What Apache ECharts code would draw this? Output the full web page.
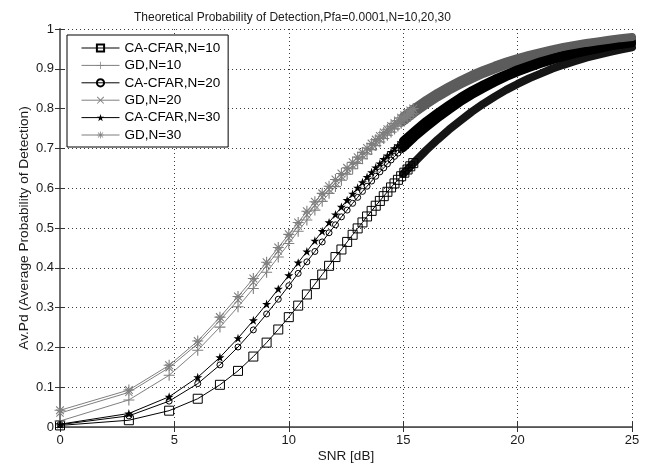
<!DOCTYPE html>
<html>
<head>
<meta charset="utf-8">
<script src="https://cdn.jsdelivr.net/npm/echarts@6/dist/echarts.min.js"></script>
<style>
html,body{margin:0;padding:0;background:#fff;}
#chart{width:652px;height:468px;}
</style>
</head>
<body>
<div id="chart"></div>
<script>
// ---- data ----
const titleText = 'Theoretical Probability of Detection,Pfa=0.0001,N=10,20,30';
const xTicks = [0, 5, 10, 15, 20, 25];
const yTicks = [0, 0.1, 0.2, 0.3, 0.4, 0.5, 0.6, 0.7, 0.8, 0.9, 1];
const seriesNames = ['CA-CFAR,N=10', 'GD,N=10', 'CA-CFAR,N=20', 'GD,N=20', 'CA-CFAR,N=30', 'GD,N=30'];

// SNR sample positions (dB) of the separately visible markers
const snrMarkerDb = [0, 3.01, 4.77, 6.02, 6.99, 7.78, 8.45, 9.03, 9.54, 10, 10.41, 10.79, 11.14, 11.46, 11.76, 12.04, 12.30, 12.55, 12.79, 13.01, 13.22, 13.42, 13.62, 13.80, 13.98, 14.15, 14.31, 14.47, 14.62, 14.77, 14.91, 15.05, 15.19, 15.31, 15.44];
// SNR positions (dB) where markers merge into a dense band
const snrBandDb = [15, 15.5, 16, 16.5, 17, 17.5, 18, 18.5, 19, 19.5, 20, 20.5, 21, 21.5, 22, 22.5, 23, 23.5, 24, 24.5, 25];

const caCfar10 = [0.004, 0.017, 0.041, 0.071, 0.106, 0.141, 0.177, 0.212, 0.245, 0.276, 0.305, 0.333, 0.359, 0.383, 0.405, 0.427, 0.446, 0.465, 0.483, 0.499, 0.514, 0.529, 0.543, 0.556, 0.568, 0.580, 0.591, 0.602, 0.612, 0.621, 0.630, 0.639, 0.647, 0.655, 0.663];
const caCfar10Band = [0.636, 0.666, 0.695, 0.722, 0.747, 0.770, 0.792, 0.812, 0.830, 0.847, 0.862, 0.876, 0.888, 0.900, 0.910, 0.919, 0.928, 0.935, 0.942, 0.948, 0.954];

const gd10 = [0.015, 0.068, 0.130, 0.193, 0.251, 0.302, 0.348, 0.389, 0.427, 0.461, 0.492, 0.520, 0.545, 0.567, 0.587, 0.604, 0.620, 0.635, 0.649, 0.662, 0.674, 0.686, 0.697, 0.707, 0.716, 0.725, 0.733, 0.741, 0.749, 0.756, 0.763, 0.769, 0.775, 0.781, 0.787];
const gd10Band = [0.767, 0.789, 0.809, 0.828, 0.845, 0.860, 0.874, 0.887, 0.898, 0.909, 0.918, 0.926, 0.934, 0.941, 0.947, 0.953, 0.958, 0.963, 0.967, 0.971, 0.975];

const caCfar20 = [0.006, 0.028, 0.065, 0.109, 0.156, 0.201, 0.244, 0.284, 0.321, 0.355, 0.386, 0.415, 0.441, 0.465, 0.488, 0.508, 0.528, 0.545, 0.562, 0.577, 0.592, 0.605, 0.618, 0.630, 0.641, 0.651, 0.661, 0.671, 0.680, 0.688, 0.696, 0.704, 0.711, 0.718, 0.724];
const caCfar20Band = [0.701, 0.728, 0.752, 0.775, 0.796, 0.816, 0.834, 0.850, 0.865, 0.879, 0.891, 0.902, 0.912, 0.921, 0.929, 0.937, 0.943, 0.949, 0.955, 0.960, 0.964];

const gd20 = [0.035, 0.087, 0.149, 0.209, 0.268, 0.319, 0.364, 0.405, 0.442, 0.475, 0.505, 0.533, 0.557, 0.578, 0.597, 0.614, 0.629, 0.643, 0.657, 0.670, 0.682, 0.693, 0.704, 0.714, 0.723, 0.732, 0.740, 0.748, 0.755, 0.762, 0.769, 0.775, 0.781, 0.787, 0.792];
const gd20Band = [0.773, 0.795, 0.815, 0.833, 0.850, 0.865, 0.879, 0.892, 0.903, 0.913, 0.922, 0.930, 0.938, 0.945, 0.951, 0.956, 0.961, 0.966, 0.970, 0.974, 0.977];

const caCfar30 = [0.007, 0.034, 0.076, 0.125, 0.175, 0.223, 0.268, 0.309, 0.347, 0.381, 0.413, 0.441, 0.468, 0.492, 0.514, 0.534, 0.553, 0.570, 0.586, 0.601, 0.615, 0.628, 0.640, 0.652, 0.662, 0.673, 0.682, 0.691, 0.700, 0.708, 0.715, 0.723, 0.729, 0.736, 0.742];
const caCfar30Band = [0.720, 0.745, 0.769, 0.790, 0.810, 0.829, 0.846, 0.861, 0.875, 0.887, 0.899, 0.909, 0.919, 0.927, 0.935, 0.942, 0.948, 0.953, 0.958, 0.963, 0.967];

const gd30 = [0.042, 0.093, 0.155, 0.216, 0.276, 0.328, 0.373, 0.414, 0.451, 0.484, 0.514, 0.542, 0.566, 0.587, 0.605, 0.622, 0.637, 0.651, 0.665, 0.678, 0.690, 0.701, 0.712, 0.722, 0.731, 0.740, 0.748, 0.756, 0.763, 0.770, 0.777, 0.783, 0.789, 0.795, 0.800];
const gd30Band = [0.781, 0.802, 0.822, 0.840, 0.856, 0.871, 0.885, 0.897, 0.908, 0.918, 0.927, 0.935, 0.942, 0.949, 0.955, 0.960, 0.965, 0.969, 0.973, 0.977, 0.980];

// ---- styling ----
const FONT = 'Liberation Sans, Arial, Helvetica, sans-serif';
const BLACK = '#000000';
const GREY = '#7f7f7f';
const BAND_GREY = '#5c5c5c';

const PLUS = 'path://M9,0H11V9H20V11H11V20H9V11H0V9H9Z';
const CROSS = 'path://M3.64,2.22L17.78,16.36L16.36,17.78L2.22,3.64Z M16.36,2.22L17.78,3.64L3.64,17.78L2.22,16.36Z';
const ASTER = 'path://M0,9H20V11H0Z M9,0H11V20H9Z M3.64,2.22L17.78,16.36L16.36,17.78L2.22,3.64Z M16.36,2.22L17.78,3.64L3.64,17.78L2.22,16.36Z';
const STAR = 'path://M10,0.5L12.25,7.41L19.51,7.41L13.63,11.68L15.88,18.59L10,14.32L4.12,18.59L6.37,11.68L0.49,7.41L7.75,7.41Z';

const defs = [
  {name: seriesNames[0], v: caCfar10, band: caCfar10Band, color: BLACK, bandColor: '#151515', symbol: 'rect', size: 9, filled: false},
  {name: seriesNames[1], v: gd10, band: gd10Band, color: GREY, bandColor: BAND_GREY, symbol: PLUS, size: 11, filled: true},
  {name: seriesNames[2], v: caCfar20, band: caCfar20Band, color: BLACK, bandColor: '#000', symbol: 'circle', size: 6, filled: false},
  {name: seriesNames[3], v: gd20, band: gd20Band, color: GREY, bandColor: BAND_GREY, symbol: CROSS, size: 8, filled: true},
  {name: seriesNames[4], v: caCfar30, band: caCfar30Band, color: BLACK, bandColor: '#000', symbol: STAR, size: 9, filled: true},
  {name: seriesNames[5], v: gd30, band: gd30Band, color: GREY, bandColor: BAND_GREY, symbol: ASTER, size: 11, filled: true}
];

const series = [];
defs.forEach(function (d) {
  series.push({
    name: d.name + ' ',
    type: 'line',
    xAxisIndex: 0, yAxisIndex: 0,
    data: snrBandDb.map(function (x, i) { return [x, d.band[i]]; }),
    symbol: 'none',
    clip: false,
    lineStyle: {color: d.bandColor, width: 8, cap: 'round', join: 'round'},
    silent: true,
    z: 2
  });
  series.push({
    name: d.name,
    type: 'line',
    xAxisIndex: 0, yAxisIndex: 0,
    data: snrMarkerDb.map(function (x, i) { return [x, d.v[i]]; }),
    symbol: d.symbol,
    symbolSize: d.size,
    showAllSymbol: true,
    clip: false,
    lineStyle: {color: d.color, width: 1},
    itemStyle: d.filled ? {color: d.color, borderWidth: 0} : {color: 'rgba(255,255,255,0)', borderColor: d.color, borderWidth: 1},
    z: 3
  });
});

const axisLabelStyle = {color: '#1a1a1a', fontFamily: FONT, fontSize: 13};

const option = {
  animation: false,
  backgroundColor: '#ffffff',
  title: {
    text: titleText,
    left: 129, top: 7,
    textStyle: {fontFamily: FONT, fontSize: 12, fontWeight: 'normal', color: '#1a1a1a'}
  },
  legend: {
    data: seriesNames,
    orient: 'vertical',
    left: 67, top: 35,
    padding: [6, 8, 5, 14],
    itemWidth: 38, itemHeight: 9, itemGap: 3.4,
    lineStyle: {width: 1},
    backgroundColor: '#ffffff',
    borderColor: '#000', borderWidth: 1,
    textStyle: {fontFamily: FONT, fontSize: 13.5, color: '#000'}
  },
  grid: {left: 60, right: 20, top: 29, bottom: 40, containLabel: false},
  xAxis: [
    {
      type: 'value', min: xTicks[0], max: xTicks[xTicks.length - 1], interval: 5,
      name: 'SNR [dB]', nameLocation: 'middle', nameGap: 22, nameMoveOverlap: false,
      nameTextStyle: {fontFamily: FONT, fontSize: 13.5, color: '#1a1a1a'},
      axisLine: {show: true, lineStyle: {color: '#707070', width: 2}},
      axisTick: {show: true, inside: true, length: 5, lineStyle: {color: '#333'}},
      axisLabel: Object.assign({margin: 7}, axisLabelStyle),
      splitLine: {show: true, lineStyle: {color: '#3a3a3a', type: [1, 3], width: 1}}
    },
    {
      type: 'value', position: 'top', min: xTicks[0], max: xTicks[xTicks.length - 1], interval: 5,
      axisLine: {show: true, lineStyle: {color: '#555', width: 1}},
      axisTick: {show: true, inside: true, length: 5, lineStyle: {color: '#333'}},
      axisLabel: {show: false}, splitLine: {show: false}
    }
  ],
  yAxis: [
    {
      type: 'value', min: yTicks[0], max: yTicks[yTicks.length - 1], interval: 0.1,
      name: 'Av.Pd (Average Probability of Detection)', nameLocation: 'middle', nameGap: 29, nameMoveOverlap: false,
      nameTextStyle: {fontFamily: FONT, fontSize: 13.7, color: '#1a1a1a'},
      axisLine: {show: true, lineStyle: {color: '#444', width: 1}},
      axisTick: {show: true, inside: true, length: 5, lineStyle: {color: '#333'}},
      axisLabel: Object.assign({margin: 6}, axisLabelStyle),
      splitLine: {show: true, lineStyle: {color: '#3a3a3a', type: [1, 3], width: 1}}
    },
    {
      type: 'value', position: 'right', min: yTicks[0], max: yTicks[yTicks.length - 1], interval: 0.1,
      axisLine: {show: true, lineStyle: {color: '#707070', width: 2}},
      axisTick: {show: true, inside: true, length: 5, lineStyle: {color: '#333'}},
      axisLabel: {show: false}, splitLine: {show: false}
    }
  ],
  series: series
};

const chart = echarts.init(document.getElementById('chart'), null, {renderer: 'canvas'});
chart.setOption(option);
</script>
</body>
</html>
